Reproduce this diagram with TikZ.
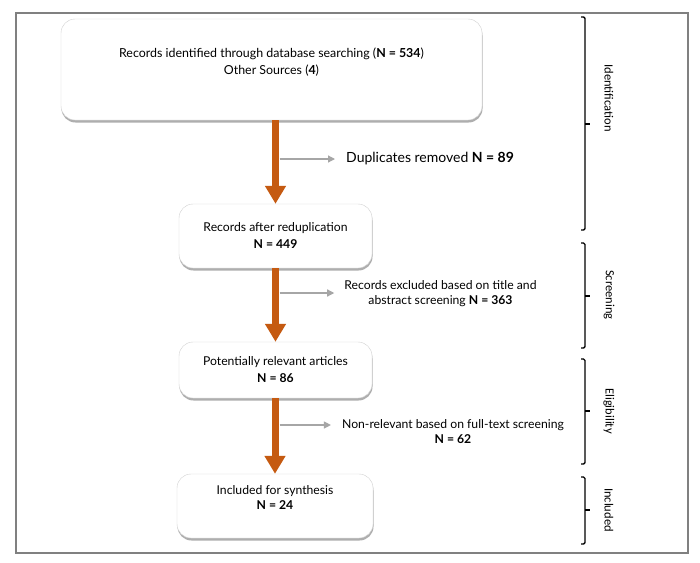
\documentclass[tikz,border=0pt]{standalone}
\usepackage{fontspec}
\setmainfont{Lato}
\newfontfamily\phasefont{Carlito}
\usetikzlibrary{arrows.meta,shadows}
\definecolor{arrorange}{HTML}{C55A11}
\definecolor{arrgray}{HTML}{A6A6A6}
\definecolor{framegray}{HTML}{808080}
\tikzset{
 box/.style={draw=black!18, fill=white, rounded corners=14pt, inner sep=0pt,
   drop shadow={shadow xshift=0.5pt, shadow yshift=-2.5pt, opacity=0.45, fill=black!70}},
 txt/.style={font=\fontsize{12.2}{17}\selectfont, align=center, inner sep=0pt},
 flow/.style={draw=arrorange, line width=7pt, -{Triangle[width=20pt,length=18pt]}},
 side/.style={draw=arrgray, line width=1.2pt, -{Triangle[width=7pt,length=7pt]}},
 brk/.style={line width=1.4pt, rounded corners=1.5pt},
 phase/.style={font=\phasefont\fontsize{12.5}{14}\selectfont, rotate=-90, inner sep=0pt}
}
\begin{document}
\begin{tikzpicture}[x=1pt,y=-1pt]
\useasboundingbox (0,0) rectangle (700,562);
\fill[white] (0,0) rectangle (700,562);
\draw[framegray, line width=2.5pt] (16,13) rectangle (688,553);

% boxes
\node[box, minimum width=421pt, minimum height=101pt] (b1) at (271.5,69.5) {};
\node[txt, font=\fontsize{12.4}{17}\selectfont] (t1) at (271.5,62) {Records identified through database searching (\textbf{N = 534})\\Other Sources (\textbf{4})};
\node[box, txt, minimum width=193pt, minimum height=64pt] (b2) at (275.5,236) {Records after reduplication\\\textbf{N = 449}};
\node[box, txt, minimum width=193pt, minimum height=56pt] (b3) at (275.5,370) {Potentially relevant articles\\\textbf{N = 86}};
\node[box, minimum width=196pt, minimum height=64pt] (b4) at (275,506) {};
\node[txt, font=\fontsize{12.2}{15}\selectfont] (t4) at (275,497) {Included for synthesis\\\textbf{N = 24}};

% side texts
\node[txt, font=\fontsize{14}{16}\selectfont, anchor=west] (d1) at (346,159) {Duplicates removed \textbf{N = 89}};
\node[txt, font=\fontsize{12.2}{15}\selectfont] (d2) at (440.5,294) {Records excluded based on title and\\abstract screening \textbf{N = 363}};
\node[txt, font=\fontsize{12.2}{14.5}\selectfont] (d3) at (453,431.5) {Non-relevant based on full-text screening\\\textbf{N = 62}};

% main flow
\draw[flow] (b2.north |- b1.south) -- (b2.north);
\draw[flow] (b3.north |- b2.south) -- (b3.north);
\draw[flow] (b4.north |- b3.south) -- (b4.north);

% side arrows
\coordinate (g1) at (279.5,159);
\coordinate (g2) at (279.5,293);
\coordinate (g3) at (279.5,425);
\draw[side] (g1) -- (g1 -| d1.west) [shorten >=11pt];
\draw[side] (g2) -- (g2 -| d2.west) [shorten >=10pt];
\draw[side] (g3) -- (g3 -| d3.west) [shorten >=11pt];

% phase brackets
\draw[brk] (581,17) -- (585,17) -- (585,230) -- (581,230);
\draw[brk] (585,124) -- (590,124);
\draw[brk] (581,243) -- (585,243) -- (585,348) -- (581,348);
\draw[brk] (585,296) -- (590,296);
\draw[brk] (581,359) -- (585,359) -- (585,464) -- (581,464);
\draw[brk] (585,411) -- (590,411);
\draw[brk] (581,477) -- (585,477) -- (585,544) -- (581,544);
\draw[brk] (585,510) -- (590,510);

\node[phase] (p1) at (609,98) {Identification};
\node[phase] (p2) at (609,295) {Screening};
\node[phase] (p3) at (609,411) {Eligibility};
\node[phase] (p4) at (609,510) {Included};
\end{tikzpicture}
\end{document}
